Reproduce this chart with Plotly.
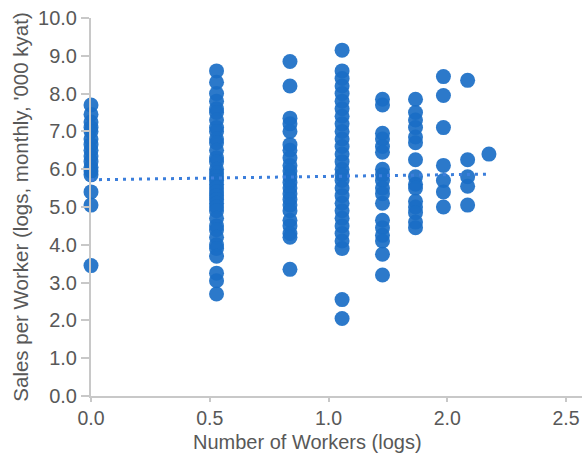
import numpy as np
import plotly.graph_objects as go

# number of workers per column (x plotted as natural log)
workers = [1, 2, 3, 4, 5, 6, 7, 8, 9]

# sales per worker (logs) observed at each worker count
sales_by_workers = [
    [7.7, 7.45, 7.25, 7.1, 7.0, 6.8, 6.65, 6.5, 6.35, 6.2, 6.05, 5.95, 5.85, 5.4, 5.05, 3.45],
    [8.6, 8.3, 8.0, 7.8, 7.6, 7.5, 7.3, 7.1, 7.0, 6.8, 6.7, 6.5, 6.3, 6.2, 6.0, 5.9, 5.8,
     5.7, 5.6, 5.5, 5.4, 5.3, 5.2, 5.1, 5.0, 4.9, 4.7, 4.5, 4.4, 4.2, 4.0, 3.9, 3.7, 3.25,
     3.05, 2.7],
    [8.85, 8.2, 7.35, 7.2, 7.0, 6.65, 6.5, 6.3, 6.1, 5.95, 5.8, 5.65, 5.5, 5.35, 5.2, 5.05,
     4.9, 4.65, 4.5, 4.3, 4.2, 3.35],
    [9.15, 8.6, 8.4, 8.2, 8.0, 7.8, 7.6, 7.4, 7.2, 7.0, 6.8, 6.6, 6.4, 6.2, 6.0, 5.85, 5.7,
     5.5, 5.3, 5.1, 4.9, 4.7, 4.5, 4.3, 4.1, 3.9, 2.55, 2.05],
    [7.85, 7.7, 6.95, 6.8, 6.6, 6.45, 6.0, 5.85, 5.7, 5.5, 5.35, 5.1, 4.65, 4.45, 4.25, 4.1,
     3.75, 3.2],
    [7.85, 7.5, 7.3, 7.1, 6.85, 6.7, 6.25, 5.8, 5.6, 5.5, 5.15, 5.0, 4.85, 4.6, 4.45],
    [8.45, 7.95, 7.1, 6.1, 5.7, 5.4, 5.0],
    [8.35, 6.25, 5.8, 5.55, 5.05],
    [6.4],
]

# fitted trend line (endpoints)
trend_workers = [1, 9]
trend_sales = [5.72, 5.87]

x_tick_labels = ["0.0", "0.5", "1.0", "2.0", "2.5"]
y_tick_labels = ["0.0", "1.0", "2.0", "3.0", "4.0", "5.0", "6.0", "7.0", "8.0", "9.0", "10.0"]

xs, ys = [], []
for n, vals in zip(workers, sales_by_workers):
    for v in vals:
        xs.append(np.log(n))
        ys.append(v)

FONT = "Liberation Sans, Arial, sans-serif"
TEXT = "#585858"
AXIS = "#c8c8c8"

fig = go.Figure()
fig.add_trace(go.Scatter(
    x=xs, y=ys, mode="markers", cliponaxis=False,
    marker=dict(size=15, color="#1a6ec6", opacity=0.92, line=dict(width=0)),
    hoverinfo="skip", showlegend=False,
))
fig.add_trace(go.Scatter(
    x=np.log(trend_workers), y=trend_sales, mode="lines", cliponaxis=False,
    line=dict(color="#3b7edb", width=3, dash="3px,5px"),
    hoverinfo="skip", showlegend=False,
))

xmax = 2.711
step = 0.6557
fig.update_layout(
    width=582, height=453,
    margin=dict(l=91, r=0, t=18, b=57),
    paper_bgcolor="white", plot_bgcolor="white",
    font=dict(family=FONT, color=TEXT, size=20),
    xaxis=dict(
        range=[0, xmax], showgrid=False, zeroline=False, automargin=False,
        showline=True, linecolor=AXIS, linewidth=2,
        ticks="outside", ticklen=4, tickwidth=2, tickcolor=AXIS,
        tickvals=[i * step for i in range(len(x_tick_labels))],
        ticktext=x_tick_labels,
        tickfont=dict(size=19.5, color=TEXT),
    ),
    yaxis=dict(
        range=[0, 10], showgrid=False, zeroline=False, automargin=False,
        showline=True, linecolor=AXIS, linewidth=2,
        ticks="outside", ticklen=8, tickwidth=2, tickcolor=AXIS,
        tickvals=[float(t) for t in y_tick_labels], ticktext=y_tick_labels,
        tickfont=dict(size=20, color=TEXT),
        title=dict(text="Sales per Worker (logs, monthly, '000 kyat)",
                   font=dict(size=20.5, color=TEXT), standoff=4),
    ),
    annotations=[dict(
        text="Number of Workers (logs)", xref="paper", yref="paper",
        x=(307 - 91) / (582 - 91), y=0, yshift=-46, xanchor="center", yanchor="middle",
        showarrow=False, font=dict(size=20, color=TEXT),
    )],
)

fig.write_html("out.html", config={"displayModeBar": False},
               post_script="document.body.style.margin='0';")
